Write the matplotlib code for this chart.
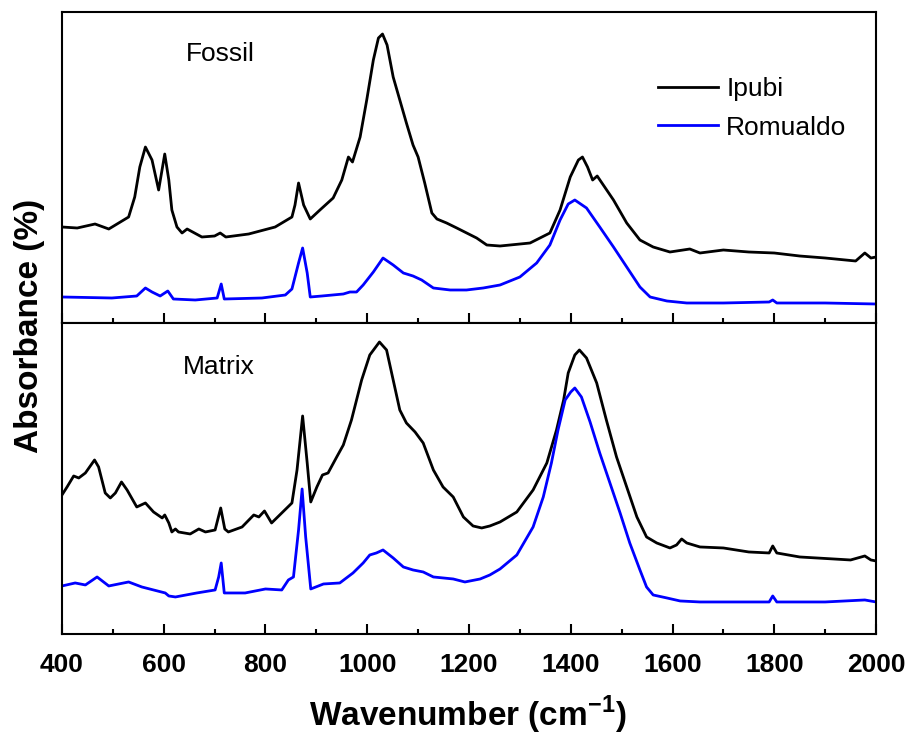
"""
Espectros FTIR - Ipubi x Romualdo (fossil e matrix)
Saida: out.png
"""

import matplotlib
matplotlib.use('Agg')
import matplotlib.pyplot as plt
from matplotlib.ticker import MultipleLocator

plt.rcParams['font.family'] = ['Liberation Sans', 'DejaVu Sans']
plt.rcParams['mathtext.fontset'] = 'custom'
plt.rcParams['mathtext.rm'] = 'Liberation Sans:bold'
plt.rcParams['mathtext.bf'] = 'Liberation Sans:bold'

# ---- dados (absorbancia em unidades arbitrarias) ----
fossil_ipubi_wn = [400, 430, 465, 492, 531, 543, 553, 564, 577, 590, 602, 610, 616, 626, 636, 646,
                   675, 700, 711, 722, 767, 819, 852, 858, 865, 875, 888, 907, 933, 950, 963, 971,
                   986, 999, 1012, 1022, 1030, 1039, 1051, 1064, 1077, 1090, 1100, 1113, 1127, 1137,
                   1156, 1176, 1215, 1235, 1261, 1320, 1359, 1379, 1399, 1415, 1423, 1433, 1443, 1452,
                   1464, 1484, 1510, 1536, 1562, 1595, 1634, 1654, 1700, 1750, 1800, 1850, 1900, 1960,
                   1978, 1990, 2000]
fossil_ipubi_abs = [96, 95, 99, 94, 106, 126, 156, 176, 163, 133, 169, 143, 113, 96, 90, 94,
                    86, 87, 90, 86, 89, 96, 106, 118, 140, 118, 104, 113, 125, 143, 166, 161,
                    186, 223, 263, 285, 289, 278, 246, 223, 200, 178, 166, 140, 110, 104,
                    100, 95, 85, 78, 77, 80, 90, 113, 146, 163, 166, 156, 143, 147,
                    138, 123, 100, 83, 76, 71, 74, 70, 73, 71, 70, 67, 65, 62,
                    70, 65, 66]

fossil_romualdo_wn = [400, 498, 547, 564, 577, 593, 608, 619, 662, 705, 713, 719, 793, 839, 852, 865,
                      873, 882, 888, 911, 953, 966, 979, 992, 1012, 1031, 1051, 1071, 1090, 1107,
                      1130, 1163, 1195, 1228, 1261, 1300, 1333, 1359, 1379, 1395, 1408, 1431, 1457,
                      1484, 1510, 1536, 1556, 1589, 1628, 1700, 1790, 1797, 1805, 1900, 2000]
fossil_romualdo_abs = [26, 25, 27, 35, 31, 27, 32, 24, 23, 25, 39, 24, 25, 28, 34, 60,
                       75, 50, 26, 27, 29, 31, 31, 38, 51, 65, 58, 50, 47, 43,
                       35, 33, 33, 35, 38, 46, 60, 78, 103, 119, 123, 115, 96,
                       76, 56, 36, 26, 22, 20, 20, 21, 23, 20, 20, 19]

matrix_ipubi_wn = [400, 410, 423, 433, 446, 464, 472, 485, 495, 505, 517, 528, 547, 564, 580, 597,
                   602, 610, 616, 623, 629, 652, 669, 682, 701, 712, 720, 727, 754, 777, 787, 798,
                   812, 832, 852, 862, 873, 882, 889, 901, 912, 923, 940, 953, 969, 989, 1005, 1024,
                   1038, 1051, 1064, 1077, 1094, 1110, 1130, 1149, 1169, 1189, 1208, 1225, 1241, 1261,
                   1294, 1326, 1353, 1372, 1386, 1395, 1408, 1417, 1431, 1451, 1470, 1490, 1510, 1530,
                   1549, 1569, 1595, 1608, 1618, 1628, 1654, 1700, 1750, 1790, 1797, 1805, 1850, 1950,
                   1978, 1990, 2000]
matrix_ipubi_abs = [139, 147, 158, 156, 161, 174, 167, 141, 136, 141, 152, 144, 127, 131, 122, 116,
                    119, 111, 102, 105, 102, 100, 105, 102, 104, 126, 105, 102, 107, 119, 117, 123,
                    111, 121, 131, 164, 218, 171, 132, 147, 159, 161, 177, 189, 214, 254, 279, 292,
                    284, 254, 224, 211, 202, 191, 164, 147, 137, 117, 108, 106, 108, 112,
                    122, 144, 171, 204, 234, 261, 279, 284, 276, 251, 214, 177, 147, 117,
                    97, 91, 86, 89, 95, 91, 87, 86, 82, 81, 88, 81, 77, 74,
                    78, 74, 73]

matrix_romualdo_wn = [400, 426, 446, 469, 492, 531, 557, 603, 610, 623, 665, 701, 708, 713, 719, 760,
                      800, 832, 845, 855, 865, 872, 879, 884, 889, 914, 946, 972, 992, 1005, 1018,
                      1031, 1051, 1071, 1090, 1110, 1130, 1169, 1192, 1222, 1241, 1261, 1294, 1326,
                      1346, 1362, 1375, 1389, 1400, 1408, 1421, 1438, 1457, 1477, 1497, 1516, 1536,
                      1549, 1562, 1589, 1615, 1654, 1790, 1797, 1805, 1900, 1978, 2000]
matrix_romualdo_abs = [48, 51, 49, 57, 48, 52, 47, 41, 38, 37, 41, 44, 57, 71, 41, 41,
                       45, 44, 54, 57, 104, 145, 97, 71, 45, 50, 51, 61, 71, 79, 81,
                       84, 76, 67, 64, 62, 57, 55, 52, 55, 59, 65, 79, 107,
                       137, 171, 204, 234, 242, 246, 237, 212, 181, 151, 121, 91, 64,
                       47, 39, 36, 33, 32, 32, 38, 32, 32, 34, 32]

fig = plt.figure(figsize=(9.06, 7.42), dpi=100)
ax1 = fig.add_axes([0.0684, 0.5647, 0.8985, 0.4191])
ax2 = fig.add_axes([0.0684, 0.1456, 0.8985, 0.4191], sharex=ax1)

lw = 2.0
ax1.plot(fossil_ipubi_wn, fossil_ipubi_abs, color='black', lw=lw, label='Ipubi')
ax1.plot(fossil_romualdo_wn, fossil_romualdo_abs, color='#0000ff', lw=lw, label='Romualdo')
ax2.plot(matrix_ipubi_wn, matrix_ipubi_abs, color='black', lw=lw)
ax2.plot(matrix_romualdo_wn, matrix_romualdo_abs, color='#0000ff', lw=lw)

for ax in (ax1, ax2):
    ax.set_xlim(400, 2000)
    ax.set_ylim(0, 311)
    ax.set_yticks([])
    ax.xaxis.set_major_locator(MultipleLocator(200))
    ax.xaxis.set_minor_locator(MultipleLocator(100))
    ax.tick_params(axis='x', which='major', direction='in', length=7, width=1.5)
    ax.tick_params(axis='x', which='minor', direction='in', length=3.5, width=1.5)
    for s in ax.spines.values():
        s.set_linewidth(1.5)

ax1.tick_params(axis='x', labelbottom=False)
ax2.tick_params(axis='x', labelsize=19, pad=14)
for lab in ax2.get_xticklabels():
    lab.set_fontweight('bold')

ax1.text(0.195, 0.865, 'Fossil', transform=ax1.transAxes, ha='center', va='center', fontsize=19)
ax2.text(0.193, 0.86, 'Matrix', transform=ax2.transAxes, ha='center', va='center', fontsize=19)

fig.legend(loc='upper left', bbox_to_anchor=(0.726, 0.896), frameon=False, fontsize=19,
           handlelength=2.3, handletextpad=0.3, labelspacing=0.55, borderpad=0, borderaxespad=0)

fig.text(0.516, 0.036, 'Wavenumber (cm$^{\\mathbf{-1}}$)', ha='center', va='center',
         fontsize=24, fontweight='bold')
fig.text(0.033, 0.561, 'Absorbance (%)', ha='center', va='center', rotation=90,
         fontsize=24, fontweight='bold')

plt.savefig('out.png', dpi=100)
plt.close()
